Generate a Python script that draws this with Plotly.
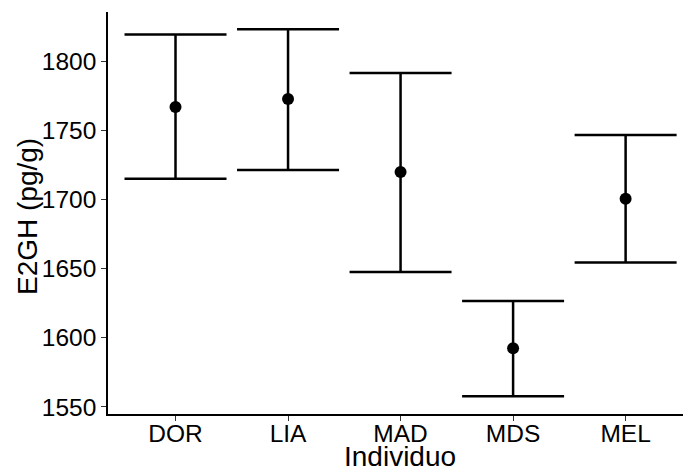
import plotly.graph_objects as go

individuo = ["DOR", "LIA", "MAD", "MDS", "MEL"]
media = [1767.0, 1772.8, 1720.0, 1592.5, 1700.6]
inferior = [1715.1, 1721.4, 1647.6, 1557.8, 1654.6]
superior = [1819.5, 1823.3, 1791.7, 1626.6, 1746.8]
yticks = [1550, 1600, 1650, 1700, 1750, 1800]

err_up = [s - m for s, m in zip(superior, media)]
err_dn = [m - i for m, i in zip(media, inferior)]

W, H = 683, 467
L, R, T, B = 108, 0, 12, 53

fig = go.Figure()
fig.add_trace(go.Scatter(
    x=individuo, y=media, mode="markers",
    marker=dict(color="black", size=12),
    error_y=dict(type="data", symmetric=False, array=err_up, arrayminus=err_dn,
                 color="black", thickness=2.5, width=51),
    showlegend=False,
))

font_family = "Liberation Sans, Arial, sans-serif"
fig.update_layout(
    width=W, height=H,
    margin=dict(l=L, r=R, t=T, b=B, pad=0),
    paper_bgcolor="white", plot_bgcolor="white",
    font=dict(family=font_family, color="black"),
    xaxis=dict(
        type="category", range=[-0.6, 4.51],
        showline=True, linecolor="black", linewidth=1.5,
        ticks="outside", ticklen=5, tickwidth=1.3, tickcolor="#333",
        tickfont=dict(size=24.5, color="black"),
        ticklabelstandoff=-8,
        showgrid=False, zeroline=False,
    ),
    yaxis=dict(
        range=[1544.9, 1835.8],
        tickvals=yticks, ticktext=[str(v) for v in yticks],
        showline=True, linecolor="black", linewidth=1.5,
        ticks="outside", ticklen=5, tickwidth=1.3, tickcolor="#333",
        tickfont=dict(size=24.5, color="black"),
        showgrid=False, zeroline=False,
    ),
    annotations=[
        dict(text="Individuo", xref="paper", yref="paper",
             x=(400 - L) / (W - L - R), y=-0.106,
             xanchor="center", yanchor="middle", showarrow=False,
             font=dict(size=28, color="black")),
        dict(text="E2GH (pg/g)", xref="paper", yref="paper",
             x=0, xshift=27 - L, y=0.49,
             xanchor="center", yanchor="middle", textangle=-90, showarrow=False,
             font=dict(size=28, color="black")),
    ],
)

fig.write_html("out.html")
